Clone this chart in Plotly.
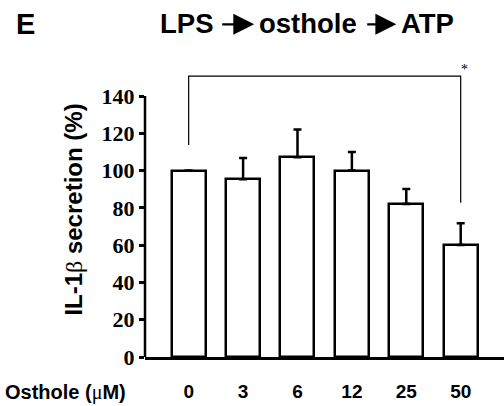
import plotly.graph_objects as go

categories = ["0", "3", "6", "12", "25", "50"]
values = [100, 95.3, 107.1, 100, 82.1, 60.1]
errors = [None, 11.5, 15, 10, 8, 11.6]
y_ticks = [0, 20, 40, 60, 80, 100, 120, 140]
title_words = ["LPS", "osthole", "ATP"]

xpos = list(range(len(categories)))
W, H = 504, 406
L, R, T, B = 145, 0, 62, 49
PW, PH = W - L - R, H - T - B
ppu = 1.864  # pixels per unit
ytop = PH / ppu


def px(xp):
    return (xp - L) / PW


def py(yp):
    return (H - B - yp) / PH


fig = go.Figure()
fig.add_trace(go.Bar(
    x=xpos, y=values, width=0.625,
    marker=dict(color="white", line=dict(color="black", width=2.5)),
    error_y=dict(type="data", array=errors, arrayminus=[0]*len(errors), symmetric=False,
                 color="black", thickness=2.5, width=4),
    showlegend=False,
))

# y axis line from 0 to 140
fig.add_shape(type="line", xref="paper", yref="y", x0=0, x1=0, y0=0, y1=max(y_ticks),
              line=dict(color="black", width=2.5))

# significance bracket between first and last
top = 150.7
i0, i1 = 0, len(categories) - 1
foot0 = values[i0] + 13.7
foot1 = values[i1] + errors[i1] + 11
fig.add_shape(type="path", xref="x", yref="y",
              path=f"M {i0},{foot0} L {i0},{top} L {i1},{top} L {i1},{foot1}",
              line=dict(color="black", width=1.2))
fig.add_annotation(x=i1, y=top, xref="x", yref="y", text="*", showarrow=False,
                   xshift=4, yshift=7, font=dict(family="Liberation Serif", size=14, color="black"))

fig.update_layout(
    width=W, height=H, margin=dict(l=L, r=R, t=T, b=B),
    paper_bgcolor="white", plot_bgcolor="white",
    bargap=0,
    xaxis=dict(range=[-0.803, 5.796], tickvals=xpos, ticktext=categories, showline=True,
               linecolor="black", linewidth=2.5, ticks="", showgrid=False, zeroline=False,
               ticklabelstandoff=15,
               tickfont=dict(family="Liberation Sans", size=19, color="black", weight="bold")),
    yaxis=dict(range=[0, ytop], tickvals=y_ticks, showline=False, ticks="outside", ticklen=5,
               tickwidth=2.5, tickcolor="black", showgrid=False, zeroline=False,
               tickfont=dict(family="Liberation Serif", size=22, color="black", weight="bold"),
               title=dict(text='IL-1<span style="font-family:Liberation Serif;font-weight:normal">β</span> secretion (%)',
                          font=dict(family="Liberation Sans", size=24, color="black", weight="bold"),
                          standoff=12)),
)

fig.add_annotation(xref="paper", yref="paper", x=px(3), y=py(392),
                   xanchor="left", yanchor="middle", showarrow=False,
                   text='Osthole (<span style="font-family:Liberation Serif;font-weight:normal">μ</span>M)',
                   font=dict(family="Liberation Sans", size=20, color="black", weight="bold"))
fig.add_annotation(xref="paper", yref="paper", x=px(14), y=py(24),
                   xanchor="left", yanchor="middle", showarrow=False, text="<b>E</b>",
                   font=dict(family="Liberation Sans", size=29, color="black"))

# title: words with arrows between them
word_centers = [186.5, 307.5, 427]
for word, cx in zip(title_words, word_centers):
    fig.add_annotation(xref="paper", yref="paper", x=px(cx), y=py(23),
                       xanchor="center", yanchor="middle", showarrow=False,
                       text=f"<b>{word}</b>",
                       font=dict(family="Liberation Sans", size=27.5, color="black"))
for x_tail, x_tip in [(220.7, 254.2), (365.7, 396.3)]:
    fig.add_annotation(xref="paper", yref="paper", x=px(x_tip), y=py(24.3),
                       ax=x_tail - x_tip, ay=0, text="", showarrow=True,
                       arrowhead=2, arrowwidth=2.2, arrowsize=1.9, arrowcolor="black")

fig.write_html("out.html", config={"displayModeBar": False},
               post_script="document.body.style.margin='0';")
